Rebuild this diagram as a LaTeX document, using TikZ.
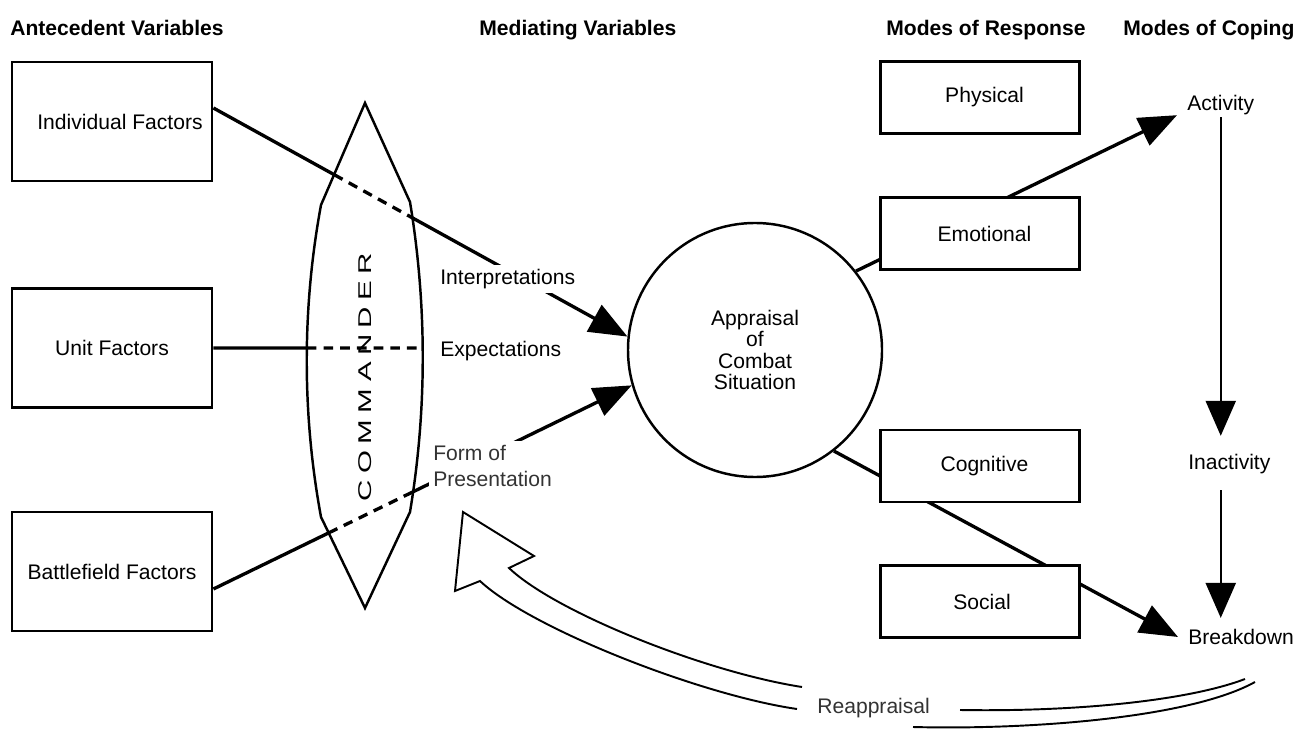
\documentclass[tikz,border=0pt]{standalone}
\usepackage{fontspec}
\setmainfont{Liberation Sans}
\usetikzlibrary{arrows.meta,intersections}

\begin{document}
\begin{tikzpicture}[
            x=0.2mm, y=-0.2mm,
            font=\fontsize{12}{14.4}\selectfont,
            heading/.style={anchor=base west, inner sep=0pt, font=\fontsize{12}{14.4}\selectfont\bfseries},
            factor/.style={rectangle, draw, line width=1.6pt, minimum width=40mm, minimum height=23.8mm, inner sep=0pt},
            mode/.style={rectangle, draw, fill=white, line width=1.7pt, minimum width=39.8mm, minimum height=14.4mm, inner sep=0pt},
            coping/.style={anchor=west, inner xsep=2mm, inner ysep=0pt},
            note/.style={anchor=west, fill=white, inner sep=0.8mm, align=left},
            link/.style={line width=1.9pt},
            cut/.style={line width=1.9pt, dash pattern=on 5.5pt off 4pt},
            flow/.style={-{Triangle[length=7.6mm, width=6mm]}, line width=1.9pt},
            vflow/.style={-{Triangle[length=7mm, width=6mm]}, line width=1.3pt},
            hollow/.style={line width=1.1pt}
        ]
            \useasboundingbox (0,0) rectangle (1302,730);

            \node[heading] (hante) at (10,35.5) {Antecedent Variables};
            \node[heading] (hmed) at (479,35.5) {Mediating Variables};
            \node[heading] (hresp) at (886,35.5) {Modes of Response};
            \node[heading] (hcop) at (1123,35.5) {Modes of Coping};

            \node[factor] (ind) at (112,121.5) {\hspace*{3.2mm}Individual Factors};
            \node[factor] (unit) at (112,348) {Unit Factors};
            \node[factor] (bat) at (112,571.5) {Battlefield Factors};

            \node[circle, draw, line width=1.4pt, minimum size=50.8mm, inner sep=0pt, align=center,
                  font=\fontsize{12}{12}\selectfont] (app) at (755,350) {Appraisal\\of\\Combat\\Situation};

            \node[coping] (act) at (1177,105) {Activity};
            \node[coping] (inact) at (1178,464) {Inactivity};
            \node[coping] (brk) at (1178,637) {Breakdown};

            % the commander lens
            \draw[line width=1.4pt, name path=lens] (365,103) -- (410,202)
                .. controls (427,305) and (427,410) .. (410,512) -- (365,608) -- (321,517)
                .. controls (302,414) and (302,308) .. (321,205) -- cycle;
            \node[rotate=90, font=\fontsize{10.5}{12}\selectfont] (cmd) at (365,377)
                {\scalebox{1.6}[1]{C\hspace{2.3pt}O\hspace{2.3pt}M\hspace{2.3pt}M\hspace{2.3pt}A\hspace{2.3pt}N\hspace{2.3pt}D\hspace{2.3pt}E\hspace{2.3pt}R}};

            \path[name path=indline] ([yshift=2.7mm]ind.east) -- (app.174);
            \path[name path=unitline] (unit.east) -- ++(300,0);
            \path[name path=batline] ([yshift=-3.5mm]bat.east) -- (app.196);
            \path[name intersections={of=lens and indline, sort by=indline, by={i1,i2}}];
            \path[name intersections={of=lens and unitline, sort by=unitline, by={u1,u2}}];
            \path[name intersections={of=lens and batline, sort by=batline, by={b1,b2}}];

            \draw[link] ([yshift=2.7mm]ind.east) -- (i1);
            \draw[cut] (i1) -- (i2);
            \draw[flow] (i2) -- (app.174);
            \draw[link] (unit.east) -- (u1);
            \draw[cut] (u1) -- (u2);
            \draw[link] ([yshift=-3.5mm]bat.east) -- (b1);
            \draw[cut] (b1) -- (b2);
            \draw[flow] (b2) -- (app.196);

            \draw[flow] (app.38) -- (act.south west);
            \draw[flow] (app.-52) -- (brk.west);

            \node[mode] (phys) at (979.5,97.5) {\hspace*{2mm}Physical};
            \node[mode] (emo) at (979.5,233.5) {\hspace*{2mm}Emotional};
            \node[mode] (cog) at (979.5,466) {\hspace*{2mm}Cognitive};
            \node[mode] (soc) at (979.5,601.5) {\hspace*{1mm}Social};

            \node[note] (interp) at (436,279) {Interpretations};
            \node[note] (expect) at (436,351) {Expectations};
            \node[note, text=black!80, font=\fontsize{12}{15.3}\selectfont] (pres) at (429,466) {Form of\\Presentation};

            \draw[vflow, shorten <=0.4mm, shorten >=3.6mm] (act.south) -- (act.south |- inact.north);
            \draw[vflow, shorten <=3.2mm, shorten >=2.2mm] (act.south |- inact.south) -- (act.south |- brk.north);

            % reappraisal feedback
            \node[anchor=base west, inner sep=0pt, text=black!80] (reapp) at (817,713.5) {Reappraisal};
            \draw[hollow] (1245,679) .. controls (1190,700) and (1080,712) .. (960,710);
            \draw[hollow] (802,687) .. controls (705,672) and (555,612) .. (509,568) -- (534,556) -- (463,512)
                -- (455,591) -- (480,581) .. controls (530,628) and (700,695) .. (797,709);
            \draw[hollow] (913,727) .. controls (1030,730) and (1190,718) .. (1255,682);
        \end{tikzpicture}
\end{document}
